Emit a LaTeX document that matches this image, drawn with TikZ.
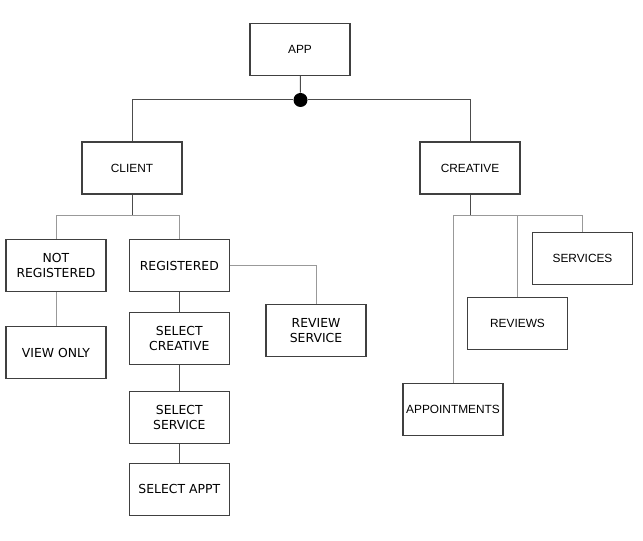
\documentclass[tikz,border=0pt]{standalone}
\usepackage{fontspec}
\setmainfont{Liberation Sans}
\newfontfamily\verd{DejaVu Sans}
\begin{document}
\begin{tikzpicture}[x=0.75pt,y=-0.75pt,
  box/.style={draw=black!75,line width=0.85pt,minimum width=75pt,minimum height=39pt,inner sep=0pt,align=center,font=\fontsize{8.9}{10.5}\selectfont},
  vbox/.style={box,font=\verd\fontsize{9.3}{11}\selectfont},
  dark/.style={draw=black!70,line width=0.75pt},
  light/.style={draw=black!40,line width=0.75pt}]
\useasboundingbox (0,0) rectangle (643,541);
\node[box] (app) at (300,49.5) {APP};
\node[box] (client) at (132,168) {CLIENT};
\node[box] (creative) at (470,168) {CREATIVE};
\node[circle,fill=black,inner sep=0pt,minimum size=10.5pt] (dot) at (300.5,100) {};
\node[vbox] (notreg) at (56,265.5) {NOT\\REGISTERED};
\node[vbox] (reg) at (179.3,265.5) {REGISTERED};
\node[vbox] (review) at (316,330.5) {REVIEW\\SERVICE};
\node[vbox] (viewonly) at (56,352.7) {VIEW ONLY};
\node[vbox] (selcre) at (179.3,338.2) {SELECT\\CREATIVE};
\node[vbox] (selser) at (179.3,417.5) {SELECT\\SERVICE};
\node[vbox] (selappt) at (179.3,489.2) {SELECT APPT};
\node[box] (appts) at (453,409.7) {APPOINTMENTS};
\node[box] (reviews) at (517.5,323.5) {REVIEWS};
\node[box] (services) at (582.5,258.7) {SERVICES};
\coordinate (cb) at (132,215.5);
\coordinate (crb) at (470,215.5);
\draw[dark] (app) -- (dot);
\draw[dark] (dot) -| (client.north);
\draw[dark] (dot) -| (creative.north);
\draw[dark] (client.south) -- (cb);
\draw[light] (cb) -| (notreg.north);
\draw[light] (cb) -| (reg.north);
\draw[light] (notreg) -- (viewonly);
\draw[light] (reg.east) -| (review.north);
\draw[dark] (reg) -- (selcre);
\draw[dark] (selcre) -- (selser);
\draw[dark] (selser) -- (selappt);
\draw[dark] (creative.south) -- (crb);
\draw[light] (crb) -| (appts.north);
\draw[light] (crb) -| (reviews.north);
\draw[light] (crb) -| (services.north);
\end{tikzpicture}
\end{document}
